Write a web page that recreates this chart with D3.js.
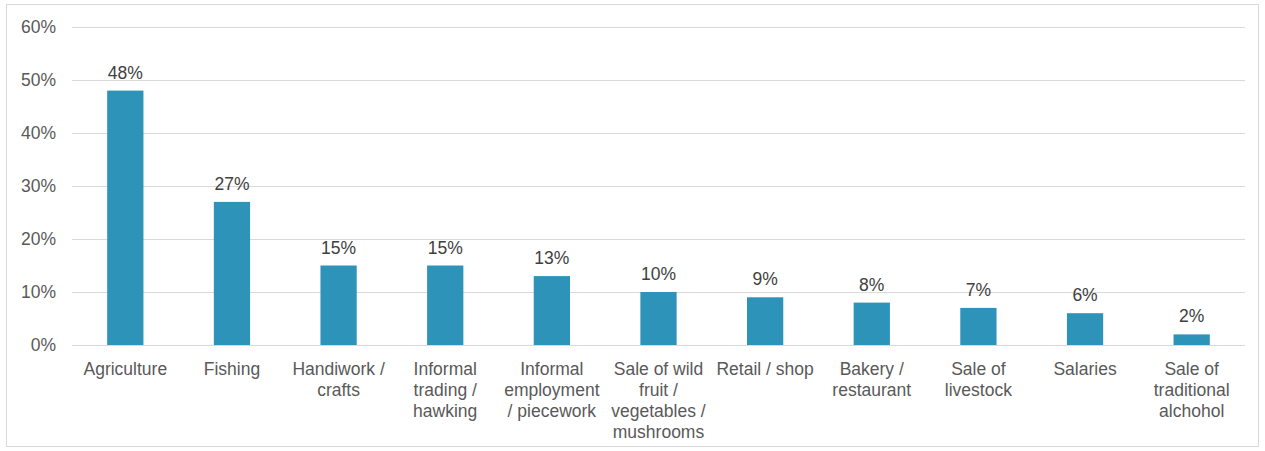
<!DOCTYPE html>
<html>
<head>
<meta charset="utf-8">
<script src="https://cdn.jsdelivr.net/npm/d3@7"></script>
<style>
  html, body { margin: 0; padding: 0; background: #fff; }
  svg { display: block; font-family: "Liberation Sans", Arial, sans-serif; }
</style>
</head>
<body>
<svg id="chart" width="1265" height="451"></svg>
<script>
// Income sources (share of households)
const categories = [
  ["Agriculture"],
  ["Fishing"],
  ["Handiwork /", "crafts"],
  ["Informal", "trading /", "hawking"],
  ["Informal", "employment", "/ piecework"],
  ["Sale of wild", "fruit /", "vegetables /", "mushrooms"],
  ["Retail / shop"],
  ["Bakery /", "restaurant"],
  ["Sale of", "livestock"],
  ["Salaries"],
  ["Sale of", "traditional", "alchohol"]
];
const values = [48, 27, 15, 15, 13, 10, 9, 8, 7, 6, 2];
const yTicks = [0, 10, 20, 30, 40, 50, 60];

const svg = d3.select("#chart");
const W = 1265, H = 451;
const margin = { left: 72, right: 20, top: 27, bottom: 106 };
const plotW = W - margin.left - margin.right;
const plotH = H - margin.top - margin.bottom;
const FS = 17.5;

// outer frame
svg.append("rect")
  .attr("x", 6.5).attr("y", 4.5)
  .attr("width", W - 13).attr("height", H - 9)
  .attr("fill", "#fff").attr("stroke", "#d9d9d9");

const x = d3.scaleBand()
  .domain(d3.range(categories.length))
  .range([margin.left, margin.left + plotW])
  .paddingInner(0.66).paddingOuter(0.33);

const y = d3.scaleLinear().domain([0, 60]).range([margin.top + plotH, margin.top]);

// gridlines
svg.append("g").selectAll("line")
  .data(yTicks)
  .join("line")
  .attr("x1", margin.left).attr("x2", margin.left + plotW)
  .attr("y1", d => Math.round(y(d)) + 0.5).attr("y2", d => Math.round(y(d)) + 0.5)
  .attr("stroke", "#d9d9d9").attr("stroke-width", 1);

// y-axis labels
const yAxis = d3.axisLeft(y).tickValues(yTicks).tickFormat(d => d + "%").tickSize(0).tickPadding(0);
const gy = svg.append("g").attr("transform", `translate(${margin.left - 16},0)`).call(yAxis);
gy.select(".domain").remove();
gy.selectAll("text").attr("fill", "#595959").attr("font-size", FS)
  .attr("font-family", "Liberation Sans, Arial, sans-serif");

// bars
svg.append("g").selectAll("rect")
  .data(values)
  .join("rect")
  .attr("x", (d, i) => x(i))
  .attr("width", x.bandwidth())
  .attr("y", d => y(d))
  .attr("height", d => y(0) - y(d))
  .attr("fill", "#2e93b9");

// value labels
svg.append("g").selectAll("text")
  .data(values)
  .join("text")
  .attr("x", (d, i) => x(i) + x.bandwidth() / 2)
  .attr("y", d => y(d) - 12)
  .attr("text-anchor", "middle")
  .attr("fill", "#404040")
  .attr("font-size", FS)
  .text(d => d + "%");

// category labels
const xl = svg.append("g").selectAll("text")
  .data(categories)
  .join("text")
  .attr("x", (d, i) => x(i) + x.bandwidth() / 2)
  .attr("y", y(0) + 30)
  .attr("text-anchor", "middle")
  .attr("fill", "#595959")
  .attr("font-size", FS);
xl.selectAll("tspan")
  .data(d => d)
  .join("tspan")
  .attr("x", function() { return d3.select(this.parentNode).attr("x"); })
  .attr("dy", (d, j) => j === 0 ? 0 : 21)
  .text(d => d);
</script>
</body>
</html>
